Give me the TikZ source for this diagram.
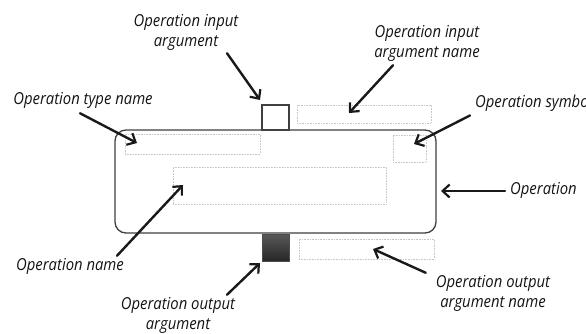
\documentclass[tikz,border=0pt]{standalone}
\usepackage{fontspec}
\setmainfont[FakeStretch=0.9]{Open Sans}
\usetikzlibrary{arrows.meta}
\begin{document}
\begin{tikzpicture}[x=1pt,y=-1pt,
  opbox/.style={draw=black!75, line width=1.3pt, rounded corners=11pt, fill=white, inner sep=0pt},
  argin/.style={draw=black!75, line width=1.2pt, fill=white, inner sep=0pt, minimum width=27pt, minimum height=25pt},
  argout/.style={draw=black!70, line width=1pt, top color=black!65, bottom color=black!85, inner sep=0pt, minimum width=27pt, minimum height=27pt},
  slot/.style={draw=black!22, densely dotted, line width=0.6pt, inner sep=0pt},
  lbl/.style={font=\fontsize{16.5}{20}\selectfont\itshape, text=black!92, align=center, inner sep=0pt},
  pointer/.style={line width=2.4pt, black!90, line cap=round, -{Straight Barb[length=7pt,width=13pt,line width=2.2pt]}}]
\clip (0,0) rectangle (586,333);
\useasboundingbox (0,0) rectangle (586,333);

% operation body and its slots
\node[opbox, minimum width=321pt, minimum height=103pt] (op) at (275.5,181.5) {};
\node[slot, minimum width=135pt, minimum height=20pt] (typename) at (192.5,144) {};
\node[slot, minimum width=33pt, minimum height=27pt] (symbol) at (409.5,148.5) {};
\node[slot, minimum width=213pt, minimum height=37pt] (opname) at (279.5,185.5) {};
\node[slot, minimum width=134pt, minimum height=18pt] (inname) at (364,114) {};
\node[slot, minimum width=135pt, minimum height=20pt] (outname) at (366.5,249) {};

% arguments
\node[argin] (inarg) at (275.5,117.5) {};
\node[argout] (outarg) at (275.5,247.5) {};

% labels
\node[lbl] (lInArg) at (186,32) {Operation input\\argument};
\node[lbl] (lInName) at (427,43) {Operation input\\argument name};
\node[lbl] (lTypeName) at (83,100) {Operation type name};
\node[lbl, anchor=west] (lSymbol) at (475,103) {Operation symbol};
\node[lbl, anchor=west] (lOp) at (510,190) {Operation};
\node[lbl] (lOpName) at (70,266) {Operation name};
\node[lbl] (lOutArg) at (178,315) {Operation output\\argument};
\node[lbl] (lOutName) at (493,293) {Operation output\\argument name};

% pointer end points
\coordinate (tInArg) at (260,100);
\coordinate (tInName) at (349,113);
\coordinate (tTypeName) at (137,143);
\coordinate (tSymbol) at (414,144);
\coordinate (tOp) at (441,191);
\coordinate (tOpName) at (183,185);
\coordinate (tOutArg) at (260,263);
\coordinate (tOutName) at (373,249);

% pointers
\draw[pointer] ([xshift=41pt,yshift=-3pt]lInArg.south) -- (tInArg);
\draw[pointer] ([xshift=-34pt,yshift=-4pt]lInName.south) -- (tInName);
\draw[pointer] ([xshift=-3pt,yshift=-5pt]lTypeName.south) -- (tTypeName);
\draw[pointer] ([xshift=-5pt,yshift=-4pt]lSymbol.south west) -- (tSymbol);
\draw[pointer] ([xshift=-5pt,yshift=-1pt]lOp.west) -- (tOp);
\draw[pointer] ([xshift=47pt,yshift=2pt]lOpName.north) -- (tOpName);
\draw[pointer] ([xshift=49pt,yshift=2pt]lOutArg.north) -- (tOutArg);
\draw[pointer] ([xshift=-10pt,yshift=2pt]lOutName.north west) -- (tOutName);
\end{tikzpicture}
\end{document}
